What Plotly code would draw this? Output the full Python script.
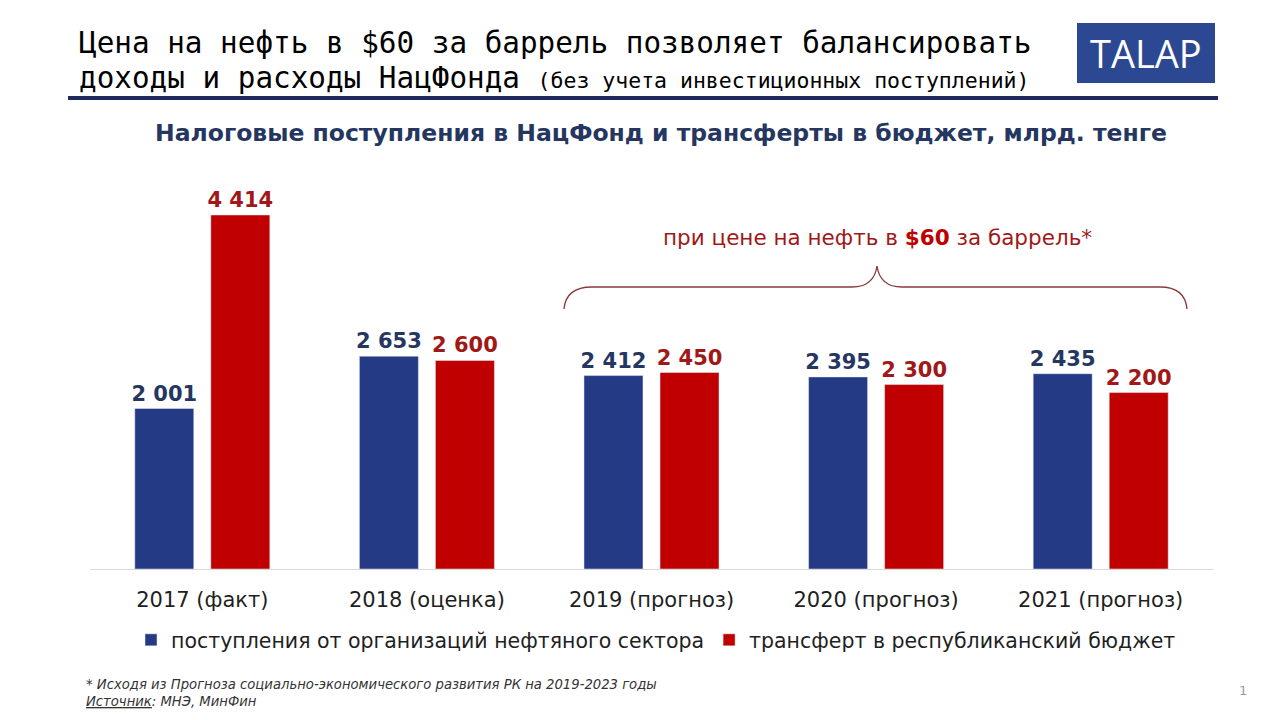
import plotly.graph_objects as go

categories = ["2017 (факт)", "2018 (оценка)", "2019 (прогноз)", "2020 (прогноз)", "2021 (прогноз)"]
oil_sector_revenue = [2001, 2653, 2412, 2395, 2435]
budget_transfer = [4414, 2600, 2450, 2300, 2200]
series_names = ["поступления от организаций нефтяного сектора", "трансферт в республиканский бюджет"]

def fmt(v):
    return f"{v:,}".replace(",", " ")

OFF = 8  # page body margin in the browser
W, H = 1280, 720
L, R, T, B = 90, 1213, 170, 569  # plot area in screen pixels
YMAX = 4975

def px(x):
    return (x - L) / (R - L)

def py(y):
    return (B - y) / (B - T)

BLUE = "#243a84"
RED = "#c00000"
BLUE_TXT = "#253760"
RED_TXT = "#a01818"

fig = go.Figure()
fig.add_trace(go.Bar(
    x=categories, y=oil_sector_revenue, name=series_names[0],
    marker_color=BLUE, text=[fmt(v) for v in oil_sector_revenue],
    textposition="outside", cliponaxis=False, constraintext="none",
    textfont=dict(family="DejaVu Sans", size=21, color=BLUE_TXT, weight="bold"),
))
fig.add_trace(go.Bar(
    x=categories, y=budget_transfer, name=series_names[1],
    marker_color=RED, text=[fmt(v) for v in budget_transfer],
    textposition="outside", cliponaxis=False, constraintext="none",
    textfont=dict(family="DejaVu Sans", size=21, color=RED_TXT, weight="bold"),
))

shapes = []
shapes.append(dict(type="line", xref="paper", yref="paper", x0=px(68), x1=px(1218), y0=py(98), y1=py(98),
                   line=dict(color="#1f2a5c", width=4)))
shapes.append(dict(type="rect", xref="paper", yref="paper", x0=px(1077), x1=px(1215), y0=py(83), y1=py(23),
                   fillcolor="#2d4892", line=dict(width=0)))
pts = [(564, 309), (566, 287), (592, 287), (852, 287), (874, 287), (877, 266), (880, 287), (902, 287),
       (1160, 287), (1185, 287), (1187, 309)]
def P(p):
    return f"{px(p[0]):.5f},{py(p[1]):.5f}"
path = (f"M {P(pts[0])} Q {P(pts[1])} {P(pts[2])} L {P(pts[3])} Q {P(pts[4])} {P(pts[5])} "
        f"Q {P(pts[6])} {P(pts[7])} L {P(pts[8])} Q {P(pts[9])} {P(pts[10])}")
shapes.append(dict(type="path", xref="paper", yref="paper", path=path,
                   line=dict(color="#8b3a3a", width=1.3)))

def ann(text, x, y, xanchor, size, color, family="DejaVu Sans"):
    return dict(text=text, x=px(x), y=py(y), xref="paper", yref="paper",
                xanchor=xanchor, yanchor="middle", showarrow=False,
                font=dict(family=family, size=size, color=color))

annotations = [
    ann("Цена на нефть в $60 за баррель позволяет балансировать", 77, 43, "left", 29.3, "#000000",
        "DejaVu Sans Mono"),
    ann("доходы и расходы НацФонда <span style='font-size:21.5px'>(без учета инвестиционных поступлений)</span>",
        77, 78, "left", 29.3, "#000000", "DejaVu Sans Mono"),
    ann("TALAP", 1146, 53, "center", 38, "#ffffff", "Open Sans"),
    ann("<b>Налоговые поступления в НацФонд и трансферты в бюджет, млрд. тенге</b>",
        661, 133, "center", 23.5, "#253760"),
    ann("при цене на нефть в <b><span style='color:#c00000'>$60</span></b> за баррель*",
        877, 237, "center", 21.5, "#a01818"),
    ann("<i>* Исходя из Прогноза социально-экономического развития РК на 2019-2023 годы</i>",
        84, 684, "left", 13.2, "#333333"),
    ann("<i><span style='text-decoration:underline'>Источник</span>: МНЭ, МинФин</i>",
        84, 701, "left", 13.2, "#333333"),
    ann("1", 1243, 690, "center", 13, "#999999"),
]

fig.update_layout(
    width=W, height=H,
    margin=dict(l=L - OFF, r=W - R + OFF, t=T - OFF, b=H - B + OFF, pad=0),
    paper_bgcolor="white", plot_bgcolor="white",
    barmode="group", bargap=0.323, bargroupgap=0.224,
    showlegend=True,
    legend=dict(orientation="h", x=px(656), xanchor="center", y=py(640), yanchor="middle",
                font=dict(family="DejaVu Sans", size=20.5, color="#1f1f1f"),
                itemwidth=30, tracegroupgap=0, itemclick=False),
    xaxis=dict(showgrid=False, showline=True, linecolor="#d9d9d9", linewidth=1,
               ticks="outside", ticklen=12, tickcolor="rgba(0,0,0,0)",
               tickfont=dict(family="DejaVu Sans", size=21, color="#1f1f1f")),
    yaxis=dict(range=[0, YMAX], visible=False, showgrid=False),
    shapes=shapes, annotations=annotations,
    font=dict(family="DejaVu Sans"),
)

fig.write_html("out.html")
